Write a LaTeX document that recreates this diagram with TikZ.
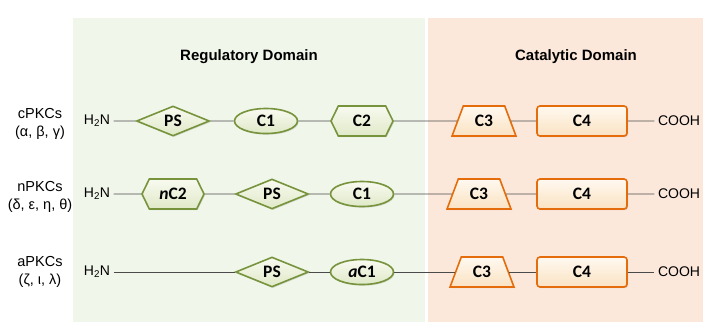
\documentclass[tikz,border=0pt]{standalone}
\usepackage{fontspec}
\setmainfont{Liberation Sans}
\newfontfamily\partfont{Carlito}
\usepackage{tikz}
\usetikzlibrary{shapes.geometric,shapes.symbols,shadows}
\definecolor{regbg}{HTML}{F1F6EA}
\definecolor{catbg}{HTML}{FCE8DB}
\definecolor{olive}{HTML}{77933C}
\definecolor{olivetop}{HTML}{F8FAF0}
\definecolor{olivefill}{HTML}{E0E9C8}
\definecolor{rust}{HTML}{E46C0A}
\definecolor{rusttop}{HTML}{FFF9F0}
\definecolor{rustfill}{HTML}{FAE2C2}
\definecolor{linkgray}{HTML}{4A4A4A}
\tikzset{
    domain-title/.style = {font=\fontsize{15}{17}\selectfont\bfseries},
    family-label/.style = {font=\fontsize{14.5}{18}\selectfont, align=center},
    end-label/.style = {font=\fontsize{14}{16}\selectfont},
    domain-part/.style = {draw, line width=1.6pt, inner sep=0pt,
        font=\partfont\bfseries\fontsize{17.5}{20}\selectfont,
        drop shadow={shadow xshift=1pt, shadow yshift=-1.2pt, opacity=0.25}},
    green-part/.style = {domain-part, draw=olive, top color=olivetop, bottom color=olivefill},
    orange-part/.style = {domain-part, draw=rust, top color=rusttop, bottom color=rustfill},
    ps-diamond/.style = {green-part, diamond, minimum width=73pt, minimum height=30pt},
    c1-oval/.style = {green-part, ellipse, minimum width=63pt, minimum height=25pt},
    c2-hex/.style = {green-part, signal, signal to=west and east, signal pointer angle=128,
        minimum width=62pt, minimum height=30pt},
    c3-trap/.style = {orange-part, trapezium, trapezium stretches=true,
        trapezium left angle=67, trapezium right angle=67,
        minimum width=64pt, minimum height=30pt},
    c4-box/.style = {orange-part, rectangle, rounded corners=3pt,
        minimum width=90pt, minimum height=30pt},
    link/.style = {draw=linkgray, line width=0.8pt},
}

\begin{document}
\begin{tikzpicture}[x=1pt, y=-1pt]
\useasboundingbox (0,0) rectangle (703,322);
\fill[regbg] (73,18) rectangle (425,322);
\fill[catbg] (428,18) rectangle (703,322);

\node[domain-title] (reg-title) at (249,57) {Regulatory Domain};
\node[domain-title] (cat-title) at (576,57) {Catalytic Domain};

\node[family-label] (c-fam) at (40,124) {cPKCs\\(α, β, γ)};
\node[family-label] (n-fam) at (40,197) {nPKCs\\(δ, ε, η, θ)};
\node[family-label] (a-fam) at (40,272) {aPKCs\\(ζ, ι, λ)};

\node[end-label] (c-nterm) at (97,121) {H\textsubscript{2}N};
\node[ps-diamond] (c-ps) at (173,121) {PS};
\node[c1-oval] (c-c1) at (266,121) {C1};
\node[c2-hex] (c-c2) at (362,121) {C2};
\node[c3-trap] (c-c3) at (484,121) {C3};
\node[c4-box] (c-c4) at (582,121) {C4};
\node[end-label] (c-cterm) at (679,121) {COOH};
\draw[link] (c-nterm) -- (c-ps) -- (c-c1) -- (c-c2) -- (c-c3) -- (c-c4) -- (c-cterm);

\node[end-label] (n-nterm) at (97,194) {H\textsubscript{2}N};
\node[c2-hex] (n-c2) at (173,194) {\textit{n}C2};
\node[ps-diamond] (n-ps) at (272,194) {PS};
\node[c1-oval] (n-c1) at (362,194) {C1};
\node[c3-trap] (n-c3) at (479,194) {C3};
\node[c4-box] (n-c4) at (582,194) {C4};
\node[end-label] (n-cterm) at (679,194) {COOH};
\draw[link] (n-nterm) -- (n-c2) -- (n-ps) -- (n-c1) -- (n-c3) -- (n-c4) -- (n-cterm);

\node[end-label] (a-nterm) at (97,272) {H\textsubscript{2}N};
\node[ps-diamond] (a-ps) at (272,272) {PS};
\node[c1-oval] (a-c1) at (362,272) {\textit{a}C1};
\node[c3-trap] (a-c3) at (482,272) {C3};
\node[c4-box] (a-c4) at (582,272) {C4};
\node[end-label] (a-cterm) at (679,272) {COOH};
\draw[link] (a-nterm) -- (a-ps) -- (a-c1) -- (a-c3) -- (a-c4) -- (a-cterm);
\end{tikzpicture}
\end{document}
